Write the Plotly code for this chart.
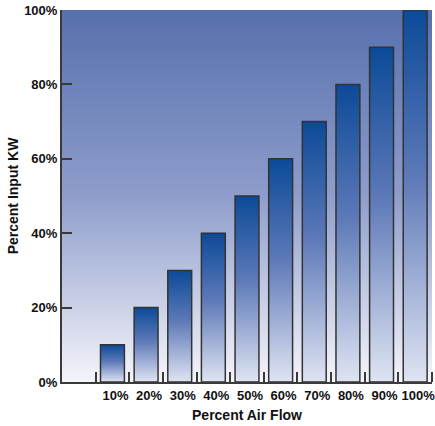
import plotly.graph_objects as go

# Data
air_flow_labels = ["10%", "20%", "30%", "40%", "50%", "60%", "70%", "80%", "90%", "100%"]
input_kw = [10, 20, 30, 40, 50, 60, 70, 80, 90, 100]
y_tick_vals = [0, 20, 40, 60, 80, 100]
y_tick_text = ["0%", "20%", "40%", "60%", "80%", "100%"]

FONT = "Liberation Sans Narrow, Arial Narrow, Liberation Sans, Arial"
AXIS_COLOR = "#3a3a3a"
BAR_W = 0.71
X_RANGE = [-0.5, len(input_kw) + 0.5]
Y_RANGE = [0, 100]

positions = list(range(1, len(input_kw) + 1))

fig = go.Figure()

# plot-area background: vertical gradient, pale at the bottom, slate blue at the top
fig.add_trace(go.Scatter(
    x=[X_RANGE[0], X_RANGE[1], X_RANGE[1], X_RANGE[0], X_RANGE[0]],
    y=[Y_RANGE[0], Y_RANGE[0], Y_RANGE[1], Y_RANGE[1], Y_RANGE[0]],
    mode="lines", line=dict(width=0), fill="toself",
    fillgradient=dict(type="vertical",
                      colorscale=[[0, "#f4f4fa"], [0.5, "#8e9dcb"], [1, "#5670ad"]]),
    hoverinfo="skip", showlegend=False,
))

# bars with their own top-to-bottom gradient
for xc, v in zip(positions, input_kw):
    x0, x1 = xc - BAR_W / 2, xc + BAR_W / 2
    fig.add_trace(go.Scatter(
        x=[x0, x1, x1, x0, x0],
        y=[0, 0, v, v, 0],
        mode="lines", line=dict(color="#333333", width=1.5),
        fill="toself",
        fillgradient=dict(type="vertical",
                          colorscale=[[0, "#dfe4f2"], [0.55, "#5d79b8"], [1, "#0b4a98"]]),
        hoverinfo="skip", showlegend=False,
    ))

fig.update_layout(
    width=435, height=426,
    margin=dict(l=62, r=0, t=10, b=44),
    paper_bgcolor="white", plot_bgcolor="white",
    font=dict(family=FONT, size=13, color="#111111"),
    xaxis=dict(
        range=X_RANGE, showgrid=False, zeroline=False,
        showline=True, linecolor=AXIS_COLOR, linewidth=2,
        tickmode="array", tickvals=positions, ticktext=air_flow_labels,
        ticks="", tickangle=0, ticklabelshift=3, ticklabeloverflow="allow",
        tickfont=dict(family=FONT, size=13, color="#111111", weight="bold"),
        minor=dict(tickmode="array",
                   tickvals=[p + 0.5 for p in [0] + positions],
                   ticks="inside", ticklen=10, tickwidth=1.5, tickcolor=AXIS_COLOR),
        title=dict(text="<b>Percent Air Flow</b>", standoff=9,
                   font=dict(family=FONT, size=14, color="#111111")),
    ),
    yaxis=dict(
        range=Y_RANGE, showgrid=False, zeroline=False,
        showline=True, linecolor=AXIS_COLOR, linewidth=2,
        tickmode="array", tickvals=y_tick_vals, ticktext=y_tick_text,
        ticks="inside", ticklen=10, tickwidth=1.5, tickcolor=AXIS_COLOR,
        tickfont=dict(family=FONT, size=13, color="#111111", weight="bold"),
        title=dict(text="<b>Percent Input KW</b>", standoff=2,
                   font=dict(family=FONT, size=14, color="#111111")),
    ),
)

fig.write_html("out.html")
